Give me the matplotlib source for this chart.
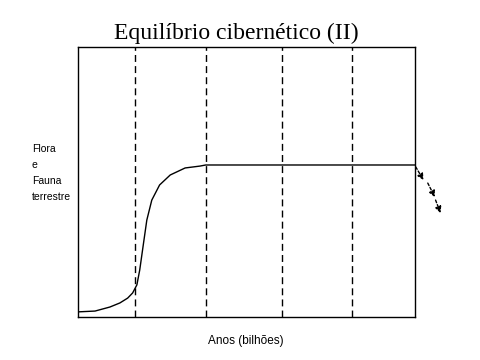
import matplotlib
matplotlib.use("Agg")
import matplotlib.pyplot as plt

# Curve: flora and fauna on land over time (arbitrary units)
anos = [0, 0.24, 0.45, 0.59, 0.70, 0.77, 0.83, 0.87, 0.92, 0.97, 1.04,
        1.15, 1.30, 1.51, 1.72, 1.80, 4.75]
vida = [0.019, 0.022, 0.037, 0.052, 0.070, 0.089, 0.119, 0.174, 0.267,
        0.359, 0.433, 0.489, 0.526, 0.552, 0.559, 0.563, 0.563]

# dashed vertical markers
marcos = [0.8, 1.8, 2.87, 3.86]

# small arrows after the end of the curve
setas_ini = [(4.76, 0.556), (4.93, 0.496), (5.04, 0.433)]
setas_fim = [(4.87, 0.507), (5.03, 0.444), (5.11, 0.385)]

fig = plt.figure(figsize=(4.8, 3.6), dpi=100)
ax = fig.add_axes([78 / 480, 43 / 360, 337 / 480, 270 / 360])

ax.plot(anos, vida, color="black", lw=1)
for m in marcos:
    ax.axvline(m, color="black", lw=1, linestyle=(0, (5, 3)))

for a, b in zip(setas_ini, setas_fim):
    ax.annotate("", xy=b, xytext=a, annotation_clip=False,
                arrowprops=dict(arrowstyle="-|>", color="black", lw=1,
                                linestyle=(0, (2, 1.5)),
                                mutation_scale=9, shrinkA=0, shrinkB=0))

ax.set_xlim(0, 4.75)
ax.set_ylim(0, 1)
ax.set_xticks([])
ax.set_yticks([])
for s in ax.spines.values():
    s.set_linewidth(1)

fig.text(236 / 480, 1 - 33 / 360, "Equilíbrio cibernético (II)",
         family="Liberation Serif", fontsize=17, ha="center", va="center")
fig.text(32 / 480, 1 - 173 / 360, "Flora\ne\nFauna\nterrestre",
         family="Liberation Sans", fontsize=7.5, ha="left", va="center",
         linespacing=1.75)
fig.text(246 / 480, 1 - 341 / 360, "Anos (bilhões)",
         family="Liberation Sans", fontsize=8.5, ha="center", va="center")

fig.savefig("out.png", dpi=100)
